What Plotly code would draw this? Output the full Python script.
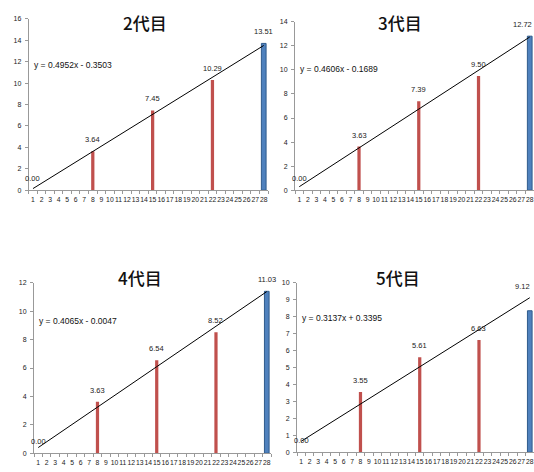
import plotly.graph_objects as go

categories = [str(i) for i in range(1, 29)]
bar_x = ["1", "8", "15", "22"]
bar_idx = [0, 7, 14, 21]
titles = ["2代目", "3代目", "4代目", "5代目"]
red_values = [
    [0.0, 3.64, 7.45, 10.29],
    [0.0, 3.63, 7.39, 9.50],
    [0.0, 3.63, 6.54, 8.52],
    [0.0, 3.55, 5.61, 6.63],
]
red_labels = [
    ["0.00", "3.64", "7.45", "10.29"],
    ["0.00", "3.63", "7.39", "9.50"],
    ["0.00", "3.63", "6.54", "8.52"],
    ["0.00", "3.55", "5.61", "6.63"],
]
blue_values = [13.70, 12.80, 11.40, 8.35]
blue_labels = ["13.51", "12.72", "11.03", "9.12"]
blue_label_pos = [13.70, 12.80, 11.40, 9.12]
trend_start = [0.15, 0.29, 0.40, 0.65]
trend_end = [13.51, 12.73, 11.38, 9.12]
equations = ["y = 0.4952x - 0.3503", "y = 0.4606x - 0.1689",
             "y = 0.4065x - 0.0047", "y = 0.3137x + 0.3395"]
eq_y = [11.7, 10.05, 9.3, 7.9]
y_max = [16, 14, 12, 10]
y_dtick = [2, 2, 2, 1]

W, H = 534, 472
x_domains = [[28.7 / W, 268 / W], [295 / W, 534 / W], [34 / W, 271 / W], [297 / W, 534 / W]]
y_domains = [[1 - 189 / H, 1 - 15 / H], [1 - 189 / H, 1 - 18 / H],
             [1 - 456 / H, 1 - 283 / H], [1 - 455 / H, 1 - 283 / H]]
title_x = [145 / W, 400 / W, 140 / W, 398 / W]
title_y = [1 - 19 / H, 1 - 19 / H, 1 - 278 / H, 1 - 278 / H]
blue_label_shift = [0, -7, 0, -7]

FONT = "Liberation Sans, Arial, sans-serif"
xtick_font = dict(family=FONT, size=6.8, color="#222")
ytick_font = dict(family=FONT, size=7, color="#222")
label_font = dict(family=FONT, size=7.5, color="#222")

fig = go.Figure()
layout = dict(width=W, height=H, margin=dict(l=0, r=0, t=0, b=0),
              paper_bgcolor="white", plot_bgcolor="white", showlegend=False,
              annotations=[])

for i in range(4):
    xa = "x" if i == 0 else f"x{i+1}"
    ya = "y" if i == 0 else f"y{i+1}"
    fig.add_trace(go.Bar(x=bar_x, y=red_values[i], xaxis=xa, yaxis=ya,
                         marker=dict(color="#C0504D", line=dict(width=0)),
                         width=0.38))
    fig.add_trace(go.Bar(x=["28"], y=[blue_values[i]], xaxis=xa, yaxis=ya,
                         marker=dict(color="#4F81BD", line=dict(color="#2F5B8C", width=1)),
                         width=0.55))
    fig.add_trace(go.Scatter(x=["1", "28"], y=[trend_start[i], trend_end[i]],
                             xaxis=xa, yaxis=ya, mode="lines",
                             line=dict(color="black", width=1), cliponaxis=False))
    xk = "xaxis" if i == 0 else f"xaxis{i+1}"
    yk = "yaxis" if i == 0 else f"yaxis{i+1}"
    layout[xk] = dict(domain=x_domains[i], anchor=ya, type="category",
                      categoryorder="array", categoryarray=categories,
                      range=[-0.5, 27.5], tickmode="array", tickvals=categories,
                      ticktext=categories, tickson="boundaries", ticks="outside",
                      ticklen=3, tickcolor="#999", showline=True, linecolor="#999",
                      linewidth=1, showgrid=False, tickfont=xtick_font, tickangle=0,
                      ticklabelstandoff=3, fixedrange=True)
    layout[yk] = dict(domain=y_domains[i], anchor=xa, range=[0, y_max[i]],
                      dtick=y_dtick[i], ticks="outside", ticklen=3, tickcolor="#999",
                      showline=True, linecolor="#999", linewidth=1, showgrid=False,
                      zeroline=False, tickfont=ytick_font, ticklabelstandoff=2,
                      fixedrange=True)
    layout["annotations"].append(dict(
        x=title_x[i], y=title_y[i], xref="paper", yref="paper",
        text=titles[i], showarrow=False, yanchor="middle", xanchor="center",
        font=dict(family="Noto Sans CJK JP", size=17, color="#111", weight=500)))
    layout["annotations"].append(dict(
        x=0.012, y=eq_y[i], xref=f"{xa} domain", yref=ya, text=equations[i],
        showarrow=False, xanchor="left", yanchor="middle",
        font=dict(family=FONT, size=8.5, color="#111")))
    for k in range(len(bar_idx)):
        layout["annotations"].append(dict(
            x=bar_idx[k], y=red_values[i][k], xref=xa, yref=ya, text=red_labels[i][k],
            showarrow=False, yanchor="bottom", yshift=5, font=label_font))
    layout["annotations"].append(dict(
        x=27, y=blue_label_pos[i], xref=xa, yref=ya, text=blue_labels[i],
        showarrow=False, yanchor="bottom", yshift=5, xshift=blue_label_shift[i],
        font=label_font))

layout["barmode"] = "overlay"
fig.update_layout(**layout)
fig.write_html("out.html", config={"displayModeBar": False},
               post_script="document.body.style.margin='0';")
